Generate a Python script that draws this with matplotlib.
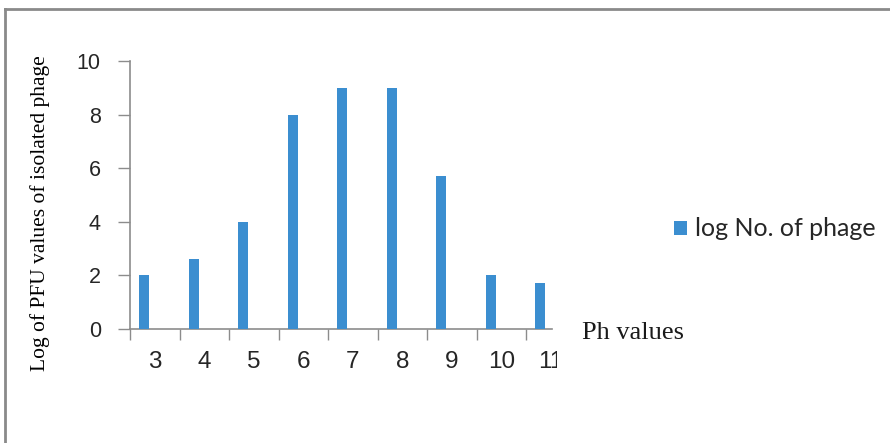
import matplotlib
matplotlib.use("Agg")
import matplotlib.pyplot as plt
from matplotlib.lines import Line2D
from matplotlib.patches import Patch
from matplotlib.transforms import Bbox, TransformedBbox

# pH values tested and log PFU of the isolated phage
ph_values = ["3", "4", "5", "6", "7", "8", "9", "10", "11"]
log_pfu = [2, 2.6, 4, 8, 9, 9, 5.7, 2, 1.7]

bar_color = "#3B8ED0"
axis_color = "#8C8C8C"
text_color = "#262626"

W, H = 890, 443
fig = plt.figure(figsize=(W / 100, H / 100), dpi=100)
fig.patch.set_facecolor("white")

# outer frame (top and left edges only show)
fig.add_artist(Line2D([5 / W, 5 / W], [-0.1, 1 - 9 / H], transform=fig.transFigure,
                      color="#8A8A8A", lw=2))
fig.add_artist(Line2D([5 / W, 1.1], [1 - 9 / H, 1 - 9 / H], transform=fig.transFigure,
                      color="#8A8A8A", lw=2))

ax = fig.add_axes([130 / W, 1 - 329 / H, 422 / W, 268 / H])
x = list(range(len(ph_values)))
ax.bar([i - 0.21 for i in x], log_pfu, width=0.2, color=bar_color, zorder=3)

ax.set_ylim(0, 10)
ax.set_yticks([0, 2, 4, 6, 8, 10])
ax.set_xlim(-0.5, 8.025)

# labels at category centres, ticks at category boundaries
ax.set_xticks(x)
ax.set_xticklabels(ph_values)
ax.set_xticks([i - 0.5 for i in x], minor=True)
ax.tick_params(axis="x", which="major", length=0, pad=16, labelsize=17.5,
               labelcolor=text_color)
ax.tick_params(axis="x", which="minor", length=8, width=1, color=axis_color,
               direction="out")
ax.tick_params(axis="y", length=9, width=1, color=axis_color, pad=12,
               labelsize=15.5, labelcolor=text_color)
for lbl in ax.get_xticklabels() + ax.get_yticklabels():
    lbl.set_fontfamily("Liberation Sans")

for s in ("top", "right"):
    ax.spines[s].set_visible(False)
for s in ("left", "bottom"):
    ax.spines[s].set_color(axis_color)
    ax.spines[s].set_linewidth(1.2)

# the last category label runs off the chart area
clip = TransformedBbox(Bbox([[0, 0], [557 / W, 1]]), fig.transFigure)
last = ax.get_xticklabels()[-1]
last.set_clip_box(clip)
last.set_clip_on(True)

fig.text(40 / W, 1 - 213 / H, "Log of PFU values of isolated phage", rotation=90,
         ha="center", va="center", fontsize=15.5, family="Liberation Serif",
         color="black")
fig.text(582 / W, 1 - 333 / H, "Ph values", ha="left", va="center", fontsize=19,
         family="Liberation Serif", color="#1a1a1a")

handle = Patch(facecolor=bar_color, edgecolor="none")
fig.legend([handle], ["log No. of phage"], loc="center left",
           bbox_to_anchor=(674 / W, 1 - 229 / H), frameon=False, borderpad=0,
           borderaxespad=0, handlelength=0.5, handleheight=0.5, handletextpad=0.35,
           prop={"family": "Lato", "size": 18}, labelcolor=text_color)

fig.savefig("out.png", dpi=100, facecolor="white")
